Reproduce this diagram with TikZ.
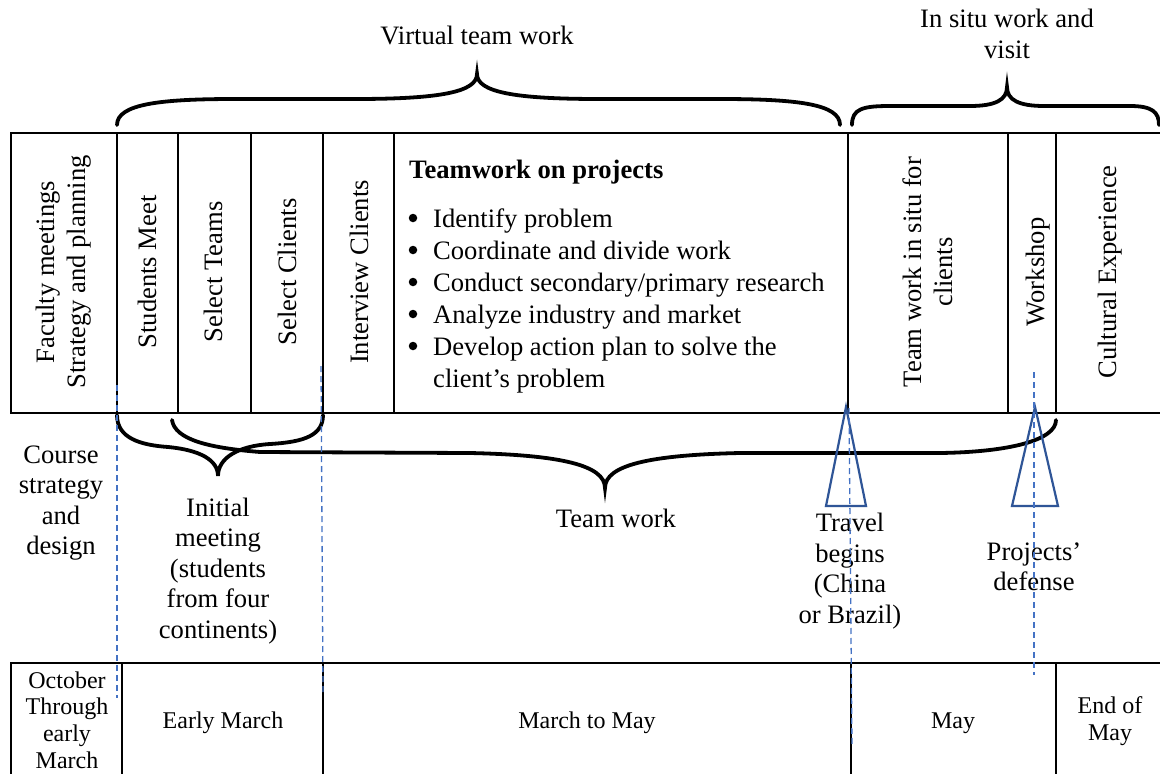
\documentclass[tikz,border=0pt]{standalone}
\usepackage{fontspec}
\setmainfont{Liberation Serif}
\definecolor{tri}{HTML}{2F5597}
\definecolor{dsh}{HTML}{4472C4}
\tikzset{
  lbl/.style={font=\fontsize{26.6}{30.5}\selectfont, align=center, inner sep=0pt},
  small/.style={font=\fontsize{24}{27.3}\selectfont, align=center, inner sep=0pt},
  vlbl/.style={lbl, rotate=90, font=\fontsize{26.6}{31}\selectfont},
  item/.style={font=\fontsize{26.6}{32}\selectfont, inner sep=0pt, anchor=base west},
  dot/.style={circle, fill=black, inner sep=0pt, minimum size=8.5pt},
  boxline/.style={line width=2pt, black},
  brace/.style={line width=3.8pt, black, line cap=round},
  tristyle/.style={line width=2.2pt, tri, line join=miter},
  guide/.style={line width=1.3pt, dsh, dash pattern=on 6pt off 4pt}
}
\begin{document}
\begin{tikzpicture}[x=1pt,y=-1pt]
\clip (0,0) rectangle (1160,774);
\fill[white] (0,0) rectangle (1160,774);

% ---------- top box ----------
\draw[boxline] (11,133) rectangle (1166,413);
\foreach \x in {117,178,251,323,394,848,1008,1056}
  \draw[boxline] (\x,133) -- (\x,413);

% ---------- bottom box ----------
\draw[boxline] (11,663) rectangle (1166,784);
\foreach \x in {122,323,851,1056}
  \draw[boxline] (\x,663) -- (\x,784);

% ---------- rotated labels ----------
\node[vlbl] (fac) at (64,272) {Faculty meetings\\Strategy and planning};
\node[vlbl] (stm) at (147,272) {Students Meet};
\node[vlbl] (slt) at (213,272) {Select Teams};
\node[vlbl] (slc) at (287,272) {Select Clients};
\node[vlbl] (itc) at (359,272) {Interview Clients};
\node[vlbl] (tws) at (928,272) {Team work in situ for\\clients};
\node[vlbl] (wsh) at (1038,272) {Workshop};
\node[vlbl] (cex) at (1110,272) {Cultural Experience};

% ---------- teamwork list ----------
\node[item, font=\fontsize{26.6}{32}\selectfont\bfseries] (twp) at (409,178) {Teamwork on projects};
\foreach \yy/\tx/\nm in {227/Identify problem/i1,259/Coordinate and divide work/i2,291/Conduct secondary\slash primary research/i3,323/Analyze industry and market/i4,355/Develop action plan to solve the/i5}{
  \node[dot] (b\nm) at (413,\yy-9) {};
  \node[item] (\nm) at (433,\yy) {\tx};
}
\node[item] (i6) at (433,387) {client’s problem};

% ---------- braces ----------
\draw[brace] (117,125) .. controls (117,104) and (160,99) .. (235,99) -- (355,99)
  .. controls (440,99) and (477,92) .. (477,74)
  .. controls (477,92) and (514,99) .. (599,99) -- (720,99)
  .. controls (797,99) and (840,104) .. (840,125);
\draw[brace] (852,125) .. controls (852,109) and (862,106) .. (890,106) -- (970,106)
  .. controls (995,106) and (1007,100) .. (1007,87)
  .. controls (1007,100) and (1019,106) .. (1044,106) -- (1130,106)
  .. controls (1152,106) and (1159,112) .. (1159,125);
\draw[brace] (117,415) .. controls (117,438) and (140,445) .. (168,447)
  .. controls (200,450) and (218,460) .. (218,476)
  .. controls (218,458) and (238,446) .. (270,444)
  .. controls (305,442) and (323,435) .. (323,415);
\draw[brace] (172,420) .. controls (175,440) and (210,448) .. (260,452) -- (470,453)
  .. controls (560,455) and (605,465) .. (605,488)
  .. controls (605,465) and (650,455) .. (740,453) -- (940,453)
  .. controls (1010,452) and (1056,440) .. (1056,420);

% ---------- top labels ----------
\node[lbl, anchor=base] (vtw) at (477,44) {Virtual team work};
\node[lbl] (isw) at (1007,34) {In situ work and\\visit};

% ---------- middle labels ----------
\node[lbl] (csd) at (61,503) {Course\\strategy\\and\\design};
\node[lbl] (inm) at (218,571) {Initial\\meeting\\(students\\from four\\continents)};
\node[lbl, anchor=base] (twk) at (616,527) {Team work};
\node[lbl] (trv) at (850,571) {Travel\\begins\\(China\\or Brazil)};
\node[lbl] (pdf) at (1034,567) {Projects’\\defense};

% ---------- triangles ----------
\coordinate (t1a) at (846,407); \coordinate (t1b) at (866,506); \coordinate (t1c) at (826,506);
\coordinate (t2a) at (1035,407); \coordinate (t2b) at (1058,506); \coordinate (t2c) at (1012,506);
\draw[tristyle] (t1a) -- (t1b) -- (t1c) -- cycle;
\draw[tristyle] (t2a) -- (t2b) -- (t2c) -- cycle;

% ---------- dashed guides ----------
\coordinate (g1a) at (117,385); \coordinate (g1b) at (117,698);
\coordinate (g2a) at (321,366); \coordinate (g2b) at (323,693);
\coordinate (g3a) at (849,408); \coordinate (g3b) at (852,747);
\coordinate (g4a) at (1034,372); \coordinate (g4b) at (1034,675);
\draw[guide] (g1a) -- (g1b);
\draw[guide] (g2a) -- (g2b);
\draw[guide] (g3a) -- (g3b);
\draw[guide] (g4a) -- (g4b);

% ---------- bottom labels ----------
\node[small, font=\fontsize{24}{26.6}\selectfont] (oct) at (67,720) {October\\Through\\early\\March};
\node[small, anchor=base] (erm) at (223,728) {Early March};
\node[small, anchor=base] (mtm) at (587,728) {March to May};
\node[small, anchor=base] (may) at (953,728) {May};
\node[small] (eom) at (1110,721) {End of\\May};
\end{tikzpicture}
\end{document}
